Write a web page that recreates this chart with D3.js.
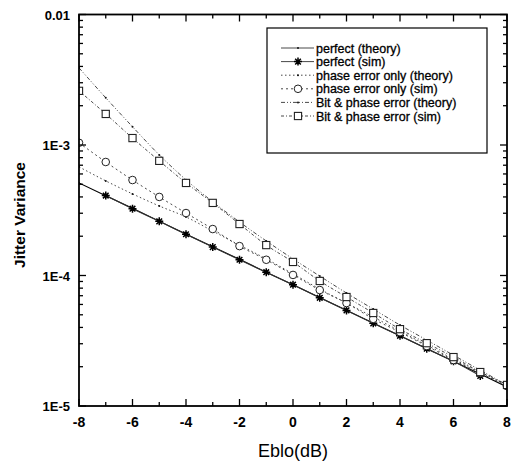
<!DOCTYPE html>
<html>
<head>
<meta charset="utf-8">
<script src="https://cdn.jsdelivr.net/npm/d3@7"></script>
<style>
  body { margin: 0; background: #fff; }
  svg { font-family: Arial, "Liberation Sans", sans-serif; }
</style>
</head>
<body>
<div id="chart"></div>
<script>
// Eb/No in dB
var ebno = [-8, -7, -6, -5, -4, -3, -2, -1, 0, 1, 2, 3, 4, 5, 6, 7, 8];

var perfectTheory = [5.12e-4, 4.09e-4, 3.27e-4, 2.61e-4, 2.08e-4, 1.66e-4, 1.33e-4, 1.06e-4,
    8.49e-5, 6.78e-5, 5.41e-5, 4.32e-5, 3.45e-5, 2.76e-5, 2.20e-5, 1.76e-5, 1.40e-5];
// sim for perfect starts at -7
var perfectSim = [null, 4.10e-4, 3.25e-4, 2.60e-4, 2.07e-4, 1.65e-4, 1.32e-4, 1.06e-4,
    8.50e-5, 6.75e-5, 5.40e-5, 4.30e-5, 3.45e-5, 2.75e-5, 2.20e-5, 1.70e-5, null];
var phaseTheory = [6.80e-4, 5.31e-4, 4.22e-4, 3.41e-4, 2.81e-4, 2.19e-4, 1.71e-4, 1.34e-4,
    1.03e-4, 7.87e-5, 6.15e-5, 4.81e-5, 3.75e-5, 2.93e-5, 2.29e-5, 1.82e-5, 1.45e-5];
var phaseSim = [1.04e-3, 7.41e-4, 5.39e-4, 4.00e-4, 3.01e-4, 2.27e-4, 1.68e-4, 1.32e-4,
    1.01e-4, 7.74e-5, 6.15e-5, 4.65e-5, 3.68e-5, 2.88e-5, 2.25e-5, 1.79e-5, 1.42e-5];
var bitTheory = [3.90e-3, 2.30e-3, 1.38e-3, 8.40e-4, 5.41e-4, 3.67e-4, 2.57e-4, 1.84e-4,
    1.34e-4, 9.90e-5, 7.34e-5, 5.53e-5, 4.17e-5, 3.20e-5, 2.45e-5, 1.88e-5, 1.45e-5];
var bitSim = [2.60e-3, 1.73e-3, 1.13e-3, 7.56e-4, 5.12e-4, 3.60e-4, 2.48e-4, 1.71e-4,
    1.27e-4, 9.08e-5, 6.84e-5, 5.16e-5, 3.88e-5, 3.03e-5, 2.37e-5, 1.82e-5, 1.45e-5];

var xTickLabels = [-8, -6, -4, -2, 0, 2, 4, 6, 8];
var yTickValues = [1e-5, 1e-4, 1e-3, 1e-2];
var yTickLabels = ["1E-5", "1E-4", "1E-3", "0.01"];

var seriesNames = ["perfect (theory)", "perfect (sim)", "phase error only (theory)",
    "phase error only (sim)", "Bit & phase error (theory)", "Bit & phase error (sim)"];

var width = 516, height = 464;
var pLeft = 79, pRight = 507, pTop = 14.5, pBottom = 406;

var svg = d3.select("#chart").append("svg")
    .attr("width", width)
    .attr("height", height);

var x = d3.scaleLinear().domain([-8, 8]).range([pLeft, pRight]);
var y = d3.scaleLog().domain([1e-5, 1e-2]).range([pBottom, pTop]);

// star marker (8 spokes)
function starPath(r) {
    var p = "";
    for (var i = 0; i < 4; i++) {
        var a = i * Math.PI / 4;
        var dx = r * Math.cos(a), dy = r * Math.sin(a);
        p += "M" + (-dx) + "," + (-dy) + "L" + dx + "," + dy;
    }
    return p;
}

var series = [
    { name: seriesNames[0], values: perfectTheory, dash: null, marker: "dot" },
    { name: seriesNames[1], values: perfectSim, dash: null, marker: "star" },
    { name: seriesNames[2], values: phaseTheory, dash: "1.5,2.5", marker: "dot" },
    { name: seriesNames[3], values: phaseSim, dash: "2,3", marker: "circle" },
    { name: seriesNames[4], values: bitTheory, dash: "4,2,1,2,1,2", marker: "dot" },
    { name: seriesNames[5], values: bitSim, dash: "3,2,1,2", marker: "square" }
];

svg.append("clipPath").attr("id", "plotclip")
    .append("rect")
    .attr("x", pLeft).attr("y", pTop)
    .attr("width", pRight - pLeft).attr("height", pBottom - pTop);

var plot = svg.append("g").attr("clip-path", "url(#plotclip)");

var line = d3.line()
    .defined(function (d) { return d.v != null; })
    .x(function (d) { return x(d.x); })
    .y(function (d) { return y(d.v); })
    .curve(d3.curveMonotoneX);

function drawMarker(g, type) {
    if (type === "dot") {
        g.append("circle").attr("r", 1).attr("fill", "#111");
    } else if (type === "star") {
        g.append("path").attr("d", starPath(4))
            .attr("stroke", "#000").attr("stroke-width", 1.5).attr("fill", "none");
    } else if (type === "circle") {
        g.append("circle").attr("r", 3.8)
            .attr("fill", "#fff").attr("stroke", "#222").attr("stroke-width", 1);
    } else if (type === "square") {
        g.append("rect").attr("x", -3.6).attr("y", -3.6)
            .attr("width", 7.2).attr("height", 7.2)
            .attr("fill", "#fff").attr("stroke", "#222").attr("stroke-width", 1.1);
    }
}

series.forEach(function (s) {
    var pts = ebno.map(function (e, i) { return { x: e, v: s.values[i] }; });
    plot.append("path")
        .datum(pts)
        .attr("d", line)
        .attr("fill", "none")
        .attr("stroke", s.marker === "dot" && !s.dash ? "#000" : "#333")
        .attr("stroke-width", s.dash ? 0.9 : 1.1)
        .attr("stroke-dasharray", s.dash);
});

series.forEach(function (s) {
    var pts = ebno.map(function (e, i) { return { x: e, v: s.values[i] }; })
        .filter(function (d) { return d.v != null; });
    plot.selectAll(null)
        .data(pts)
        .enter()
        .append("g")
        .attr("transform", function (d) { return "translate(" + x(d.x) + "," + y(d.v) + ")"; })
        .each(function () { drawMarker(d3.select(this), s.marker); });
});

// axes: ticks drawn inward on all four sides
var xMinor = d3.range(-8, 9, 1);
var yMinor = [];
[1e-5, 1e-4, 1e-3].forEach(function (dec) {
    for (var k = 2; k <= 9; k++) yMinor.push(dec * k);
});

var axes = svg.append("g").attr("stroke", "#000");

axes.selectAll(".xt").data(xMinor).enter().append("line")
    .attr("x1", function (d) { return x(d); }).attr("x2", function (d) { return x(d); })
    .attr("y1", pBottom).attr("y2", function (d) { return pBottom - (d % 2 === 0 ? 7 : 4); })
    .attr("stroke-width", 1.3);
axes.selectAll(".xtt").data(xMinor).enter().append("line")
    .attr("x1", function (d) { return x(d); }).attr("x2", function (d) { return x(d); })
    .attr("y1", pTop).attr("y2", function (d) { return pTop + (d % 2 === 0 ? 7 : 4); })
    .attr("stroke-width", 1.3);

[pLeft, pRight].forEach(function (ax) {
    var dir = ax === pLeft ? 1 : -1;
    axes.selectAll(null).data(yTickValues).enter().append("line")
        .attr("x1", ax).attr("x2", ax + dir * 7)
        .attr("y1", function (d) { return y(d); }).attr("y2", function (d) { return y(d); })
        .attr("stroke-width", 1.3);
    axes.selectAll(null).data(yMinor).enter().append("line")
        .attr("x1", ax).attr("x2", ax + dir * 4)
        .attr("y1", function (d) { return y(d); }).attr("y2", function (d) { return y(d); })
        .attr("stroke-width", 1.3);
});

axes.append("rect")
    .attr("x", pLeft).attr("y", pTop)
    .attr("width", pRight - pLeft).attr("height", pBottom - pTop)
    .attr("fill", "none").attr("stroke-width", 1.8);

// tick labels
svg.selectAll(".xl").data(xTickLabels).enter().append("text")
    .attr("x", function (d) { return x(d); })
    .attr("y", 427)
    .attr("text-anchor", "middle")
    .style("font-size", "14px").style("font-weight", "bold")
    .text(function (d) { return d; });

svg.selectAll(".yl").data(yTickValues).enter().append("text")
    .attr("x", 70)
    .attr("y", function (d) { return y(d) + 5; })
    .attr("text-anchor", "end")
    .style("font-size", "13px").style("font-weight", "bold")
    .text(function (d, i) { return yTickLabels[i]; });

svg.append("text")
    .attr("x", (pLeft + pRight) / 2)
    .attr("y", 457)
    .attr("text-anchor", "middle")
    .style("font-size", "18px")
    .text("Eblo(dB)");

svg.append("text")
    .attr("transform", "translate(25," + 215 + ") rotate(-90)")
    .attr("text-anchor", "middle")
    .style("font-size", "15.5px").style("font-weight", "bold")
    .text("Jitter Variance");

// legend
var legend = svg.append("g").attr("transform", "translate(267,28)");
legend.append("rect")
    .attr("width", 220).attr("height", 125)
    .attr("fill", "#fff").attr("stroke", "#000").attr("stroke-width", 1.2);

var rowY = d3.scaleLinear().domain([0, 5]).range([20, 88]);

series.forEach(function (s, i) {
    var row = legend.append("g").attr("transform", "translate(0," + rowY(i) + ")");
    row.append("line")
        .attr("x1", 14).attr("x2", 47).attr("y1", 0).attr("y2", 0)
        .attr("stroke", "#333").attr("stroke-width", 0.9)
        .attr("stroke-dasharray", s.dash);
    var m = row.append("g").attr("transform", "translate(31,0)");
    drawMarker(m, s.marker);
    row.append("text")
        .attr("x", 49).attr("y", 4.5)
        .style("font-size", "12.5px")
        .attr("stroke", "#000").attr("stroke-width", 0.3)
        .text(s.name);
});
</script>
</body>
</html>
